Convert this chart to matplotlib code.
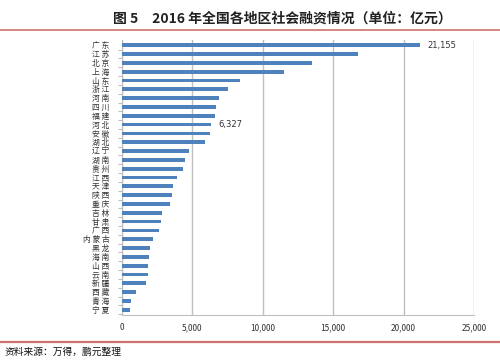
import matplotlib
matplotlib.use("Agg")
import matplotlib.pyplot as plt
from matplotlib.ticker import FuncFormatter, FixedLocator

plt.rcParams["font.family"] = ["Noto Sans CJK SC", "DejaVu Sans"]

# 地区与社会融资规模（亿元），自上而下
regions = ["广东", "江苏", "北京", "上海", "山东", "浙江", "河南", "四川", "福建", "河北",
           "安徽", "湖北", "辽宁", "湖南", "贵州", "江西", "天津", "陕西", "重庆", "吉林",
           "甘肃", "广西", "内蒙古", "黑龙", "海南", "山西", "云南", "新疆", "西藏", "青海", "宁夏"]
values = [21155, 16760, 13460, 11490, 8357, 7525, 6863, 6670, 6577, 6327,
          6280, 5912, 4725, 4463, 4320, 3893, 3632, 3537, 3443, 2849,
          2754, 2659, 2184, 1970, 1923, 1876, 1860, 1733, 997, 665, 570]
labelled = {"广东": "21,155", "河北": "6,327"}
xticks = [0, 5000, 10000, 15000, 20000, 25000]

bar_color = "#4F81BD"
grid_color = "#BFBFBF"
red_line = "#C0504D"

fig = plt.figure(figsize=(5.0, 3.63), dpi=100)

fig.text(0.565, 0.948, "图 5　2016 年全国各地区社会融资情况（单位：亿元）",
         ha="center", va="center", fontsize=10, fontweight="bold", color="#222222")
fig.add_artist(plt.Line2D([0.0, 1.0], [0.917, 0.917], color=red_line, lw=1.2, alpha=0.8))
fig.add_artist(plt.Line2D([0.0, 1.0], [0.058, 0.058], color=red_line, lw=1.6, alpha=0.8))
fig.text(0.01, 0.03, "资料来源：万得，鹏元整理", ha="left", va="center",
         fontsize=7, color="#111111")

ax = fig.add_axes([0.244, 0.132, 0.704, 0.758])
pos = list(range(len(regions)))
ax.barh(pos, values, height=0.42, color=bar_color, zorder=3)

for i, (name, v) in enumerate(zip(regions, values)):
    if name in labelled:
        ax.text(v + 550, i, labelled[name], va="center", ha="left",
                fontsize=6, color="#333333", family="DejaVu Sans")

ax.set_xlim(0, 25000)
ax.set_ylim(len(regions) - 0.4, -0.6)
ax.set_xticks(xticks)
ax.xaxis.set_major_formatter(FuncFormatter(lambda x, p: f"{int(x):,}"))
ax.grid(axis="x", color=grid_color, lw=1.0, zorder=0)
ax.set_yticks(pos)
ax.set_yticklabels([" ".join(r) for r in regions], fontsize=5.6, color="#333333")
ax.yaxis.set_minor_locator(FixedLocator([p + 0.5 for p in pos]))
ax.tick_params(axis="y", which="major", length=0, pad=9)
ax.tick_params(axis="y", which="minor", length=3, color=grid_color, width=0.8)
ax.tick_params(axis="x", length=0, labelsize=6, labelcolor="#333333", pad=6)

for side in ["top", "right"]:
    ax.spines[side].set_visible(False)
for side in ["left", "bottom"]:
    ax.spines[side].set_color(grid_color)
    ax.spines[side].set_linewidth(0.8)

fig.savefig("out.png", dpi=100)
